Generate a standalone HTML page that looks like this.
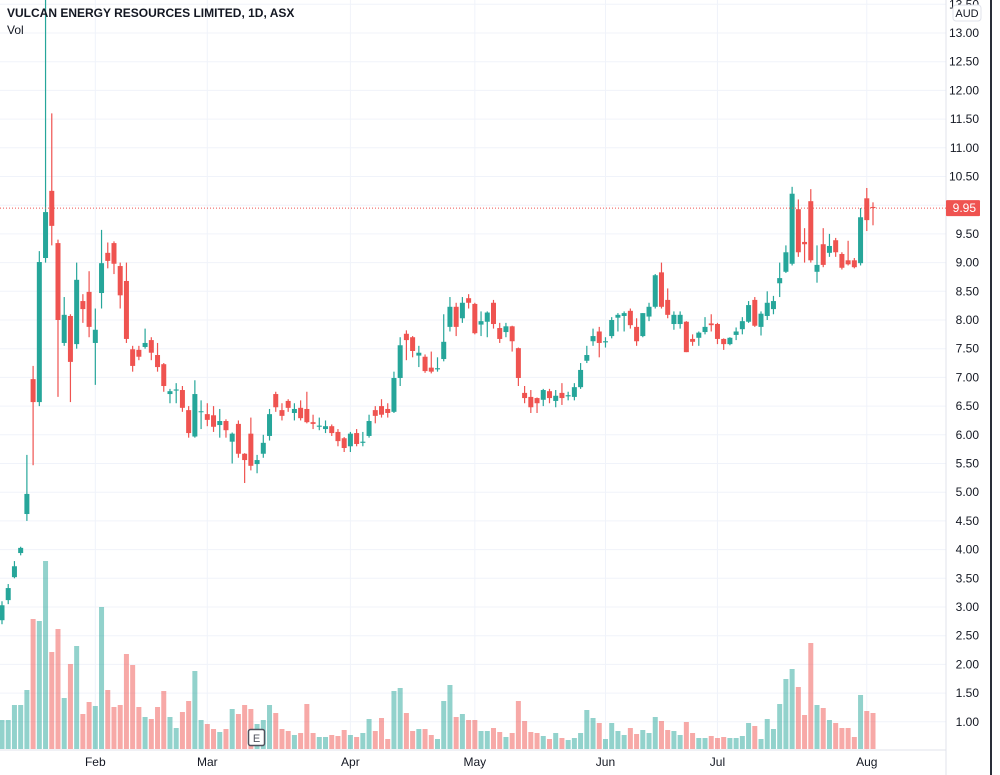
<!DOCTYPE html>
<html><head><meta charset="utf-8"><style>
html,body{margin:0;padding:0;background:#fff;}
body{width:1000px;height:775px;overflow:hidden;font-family:"Liberation Sans",sans-serif;}
</style></head><body>
<svg id="chart" width="1000" height="775" xmlns="http://www.w3.org/2000/svg" style="display:block">
<rect x="0" y="0" width="1000" height="775" fill="#ffffff"/>
<g id="grid"></g>
<g id="vols"></g>
<g id="candles"></g>
<line x1="946" y1="0" x2="946" y2="775" stroke="#e0e3eb" stroke-width="1"/>
<line x1="0" y1="750" x2="946" y2="750" stroke="#e0e3eb" stroke-width="1"/>
<line x1="991" y1="0" x2="991" y2="775" stroke="#2a2e39" stroke-width="2"/>
<g id="yticks"></g>
<g id="xticks"></g>
<line id="lastline" x1="0" x2="946" stroke="#ef5350" stroke-width="1" stroke-dasharray="1,2"/>
<g>
<rect id="lastbox" x="946" width="34" height="16" rx="1" fill="#ef5350"/>
<text id="lasttext" x="976" font-size="12" fill="#fff" text-anchor="end"></text>
</g>
<g>
<rect x="953" y="5" width="28" height="16" rx="3" fill="#fff" stroke="#e0e3eb"/>
<text x="967" y="17" font-size="11" fill="#131722" text-anchor="middle">AUD</text>
</g>
<text x="7" y="17" font-size="12" font-weight="bold" fill="#131722">VULCAN ENERGY RESOURCES LIMITED, 1D, ASX</text>
<text x="7" y="34" font-size="12" fill="#131722">Vol</text>
<g>
<rect x="248.5" y="729.5" width="16" height="16" rx="2" fill="#fff" stroke="#50535e" stroke-width="1.5"/>
<text x="256.5" y="742" font-size="11" fill="#50535e" text-anchor="middle">E</text>
</g>
</svg>
<script>
const opens=[2.77,3.12,3.52,3.94,4.62,6.97,6.57,9.08,10.25,9.34,7.6,8.07,7.58,8.33,8.49,7.6,8.47,9.17,9.34,8.94,8.68,7.49,7.48,7.53,7.65,7.39,7.23,6.71,6.77,6.78,6.43,5.97,6.40,6.36,6.34,6.17,6.24,5.88,6.19,5.67,6.02,5.49,5.67,5.98,6.71,6.43,6.59,6.38,6.47,6.45,6.22,6.14,6.10,6.15,6.05,5.94,5.80,6.03,5.86,5.98,6.43,6.50,6.45,6.40,6.99,7.76,7.70,7.38,7.36,7.17,7.14,7.32,7.88,8.23,8.03,8.38,8.28,7.92,7.97,8.30,7.86,7.79,7.89,7.51,6.73,6.66,6.64,6.61,6.76,6.59,6.73,6.67,6.66,6.83,7.29,7.63,7.80,7.61,7.72,8.04,8.07,8.16,7.88,7.72,8.06,8.23,8.83,8.35,7.93,7.93,7.97,7.67,7.69,7.79,7.94,7.93,7.67,7.58,7.74,7.84,7.97,8.35,7.88,8.07,8.19,8.64,8.84,8.98,9.93,9.36,10.07,8.84,9.32,9.17,9.39,9.15,9.04,9.04,8.99,10.12,9.97];
const highs=[3.1,3.4,3.8,4.05,5.65,7.2,9.2,13.6,11.6,9.4,8.4,8.1,9.0,8.45,8.85,8.2,9.57,9.35,9.37,9.0,9.0,7.55,7.55,7.85,7.7,7.6,7.25,6.8,6.9,6.85,6.5,6.95,6.6,6.55,6.5,6.45,6.27,6.04,6.25,5.68,6.3,5.65,6.0,6.45,6.75,6.55,6.62,6.55,6.6,6.75,6.35,6.3,6.25,6.18,6.1,5.96,6.05,6.1,6.05,6.35,6.5,6.62,6.55,7.1,7.7,7.82,7.72,7.55,7.4,7.45,7.35,8.1,8.4,8.3,8.4,8.45,8.3,8.15,8.15,8.35,7.95,7.95,7.9,7.52,6.85,6.78,6.65,6.8,6.8,6.78,6.9,6.75,6.9,7.25,7.55,7.85,7.88,7.7,8.05,8.12,8.15,8.2,8.03,8.12,8.3,8.8,9.0,8.55,8.15,8.15,7.98,7.75,7.8,8.05,8.1,7.95,7.68,7.7,7.87,8.05,8.33,8.4,8.15,8.5,8.42,9.0,9.3,10.32,10.1,9.6,10.28,9.3,9.6,9.5,9.43,9.18,9.38,9.08,9.95,10.3,10.05];
const lows=[2.7,3.05,3.5,3.9,4.5,5.47,6.5,9.0,9.3,6.66,7.55,6.57,7.5,7.95,7.7,6.87,8.2,8.9,8.8,8.2,7.6,7.1,7.3,7.5,7.3,7.1,6.75,6.55,6.55,6.4,5.95,5.95,6.1,6.15,6.05,5.95,5.95,5.5,5.6,5.16,5.38,5.33,5.6,5.9,6.4,6.25,6.4,6.25,6.25,6.2,6.1,6.08,6.03,5.98,5.8,5.7,5.7,5.8,5.8,5.95,6.2,6.3,6.3,6.38,6.85,7.3,7.35,7.18,7.08,7.07,7.1,7.28,7.8,7.72,7.95,8.2,7.75,7.72,7.7,7.85,7.6,7.7,7.45,6.85,6.55,6.38,6.38,6.5,6.55,6.48,6.52,6.6,6.6,6.8,7.25,7.55,7.35,7.52,7.68,7.8,7.8,7.85,7.55,7.7,7.98,8.2,8.2,8.03,7.83,7.85,7.44,7.55,7.55,7.75,7.8,7.58,7.48,7.56,7.65,7.75,7.95,7.88,7.73,8.0,8.1,8.4,8.82,8.95,9.1,9.0,9.0,8.65,8.92,9.1,9.1,8.88,8.95,8.9,8.95,9.55,9.65];
const closes=[3.03,3.33,3.71,4.03,4.97,6.57,9.01,9.88,9.64,8.0,8.09,7.27,8.7,8.19,7.88,7.83,8.99,9.03,8.98,8.43,7.67,7.2,7.36,7.6,7.43,7.18,6.85,6.76,6.79,6.47,6.03,6.71,6.41,6.26,6.14,6.24,6.08,6.02,5.67,5.56,5.46,5.56,5.86,6.36,6.48,6.33,6.47,6.45,6.29,6.22,6.19,6.16,6.15,6.03,5.89,5.77,6.02,5.84,5.88,6.24,6.33,6.35,6.38,6.99,7.56,7.65,7.46,7.43,7.11,7.10,7.16,7.62,8.23,7.88,8.30,8.30,7.77,7.98,8.13,7.93,7.67,7.89,7.63,6.99,6.64,6.48,6.55,6.78,6.64,6.68,6.64,6.69,6.83,7.13,7.39,7.72,7.60,7.63,8.00,8.09,8.12,7.91,7.63,8.12,8.23,8.78,8.23,8.09,8.09,8.09,7.44,7.62,7.78,7.88,7.91,7.67,7.58,7.69,7.80,7.98,8.26,7.90,8.11,8.30,8.33,8.73,9.18,10.2,9.18,9.32,9.04,8.96,8.96,9.29,9.18,8.91,8.97,8.92,9.79,9.74,9.95];
const volumes=[2.9,2.9,4.4,4.4,5.9,13.0,12.8,18.8,9.7,12.0,5.1,8.5,10.3,3.5,4.7,4.3,14.2,5.9,4.2,4.4,9.5,8.4,4.2,3.2,3.0,4.2,5.8,3.2,2.1,3.7,4.8,7.8,2.9,2.5,2.0,1.7,2.0,4.0,3.5,4.4,4.0,2.5,2.9,4.4,3.6,2.0,1.8,1.4,1.6,4.5,1.6,1.2,1.2,1.4,1.3,1.9,1.4,1.2,1.6,3.0,1.8,3.1,1.0,5.8,6.1,3.6,1.8,2.0,2.0,1.4,1.0,4.8,6.4,3.2,3.5,2.9,2.9,1.8,1.8,2.1,1.7,1.2,1.6,4.8,2.8,1.7,1.6,1.3,1.0,1.6,1.1,0.9,1.1,1.6,3.9,3.1,2.6,1.0,2.6,1.8,1.4,2.1,1.5,1.9,1.6,3.2,2.8,1.9,1.8,1.4,2.7,1.6,1.1,1.1,1.3,1.1,1.2,1.1,1.1,1.3,2.6,2.3,1.0,3.0,2.0,4.5,7.0,8.0,6.2,3.4,10.6,4.4,4.1,2.9,2.6,2.1,2.1,1.2,5.4,3.8,3.6];
const priceTicks=["1.00","1.50","2.00","2.50","3.00","3.50","4.00","4.50","5.00","5.50","6.00","6.50","7.00","7.50","8.00","8.50","9.00","9.50","10.00","10.50","11.00","11.50","12.00","12.50","13.00","13.50"];
const monthLabels=["Feb","Mar","Apr","May","Jun","Jul","Aug"];
const monthBarIndex=[15,33,56,76,97,115,139];
const lastPrice=9.95;

const NS="http://www.w3.org/2000/svg";
const N=opens.length;
const X0=2,X1=873;
const step=(X1-X0)/(N-1);
function xScale(i){return X0+i*step;}
function yScale(p){return 33+(13-p)*57.4;}
function vScale(v){return v*10;}
const VBASE=749;
function mk(tag,attrs,parent){const e=document.createElementNS(NS,tag);for(const k in attrs)e.setAttribute(k,attrs[k]);parent.appendChild(e);return e;}

const grid=document.getElementById('grid'),yt=document.getElementById('yticks'),xt=document.getElementById('xticks');
priceTicks.forEach(t=>{
  const y=yScale(parseFloat(t));
  const gl=mk('line',{x1:0,x2:946,y1:y,y2:y,stroke:'#f0f3fa','stroke-width':1},grid);
  
  
  const tx=mk('text',{x:979,y:y+4,'font-size':12,fill:'#131722','text-anchor':'end'},yt);
  
  
  tx.textContent=t;
});
monthLabels.forEach((m,k)=>{
  const x=xScale(monthBarIndex[k]);
  const gl=mk('line',{x1:x,x2:x,y1:0,y2:750,stroke:'#f0f3fa','stroke-width':1},grid);
  
  
  const tx=mk('text',{x:x,y:766,'font-size':12,fill:'#131722','text-anchor':'middle'},xt);
  
  
  tx.textContent=m;
});
const vg=document.getElementById('vols'),cg=document.getElementById('candles');
for(let i=0;i<N;i++){
  const up=closes[i]>=opens[i];
  const x=xScale(i);
  const h=vScale(volumes[i]);
  const vb=mk('rect',{x:x-2.5,y:VBASE-h,width:5,height:h,fill:up?'rgba(38,166,154,0.5)':'rgba(239,83,80,0.5)'},vg);
  
  
  const col=up?'#26a69a':'#ef5350';
  const wk=mk('line',{x1:x,x2:x,y1:yScale(highs[i]),y2:yScale(lows[i]),stroke:col,'stroke-width':1.2},cg);
  
  
  const top=yScale(Math.max(opens[i],closes[i])),bot=yScale(Math.min(opens[i],closes[i]));
  const bd=mk('rect',{x:x-2.5,y:top,width:5,height:Math.max(1,bot-top),fill:col},cg);
  
  
}
const ly=yScale(lastPrice);
const ll=document.getElementById('lastline');ll.setAttribute('y1',ly);ll.setAttribute('y2',ly);
document.getElementById('lastbox').setAttribute('y',ly-8);
const lt=document.getElementById('lasttext');lt.setAttribute('y',ly+4);lt.textContent=lastPrice.toFixed(2);
</script>
</body></html>
